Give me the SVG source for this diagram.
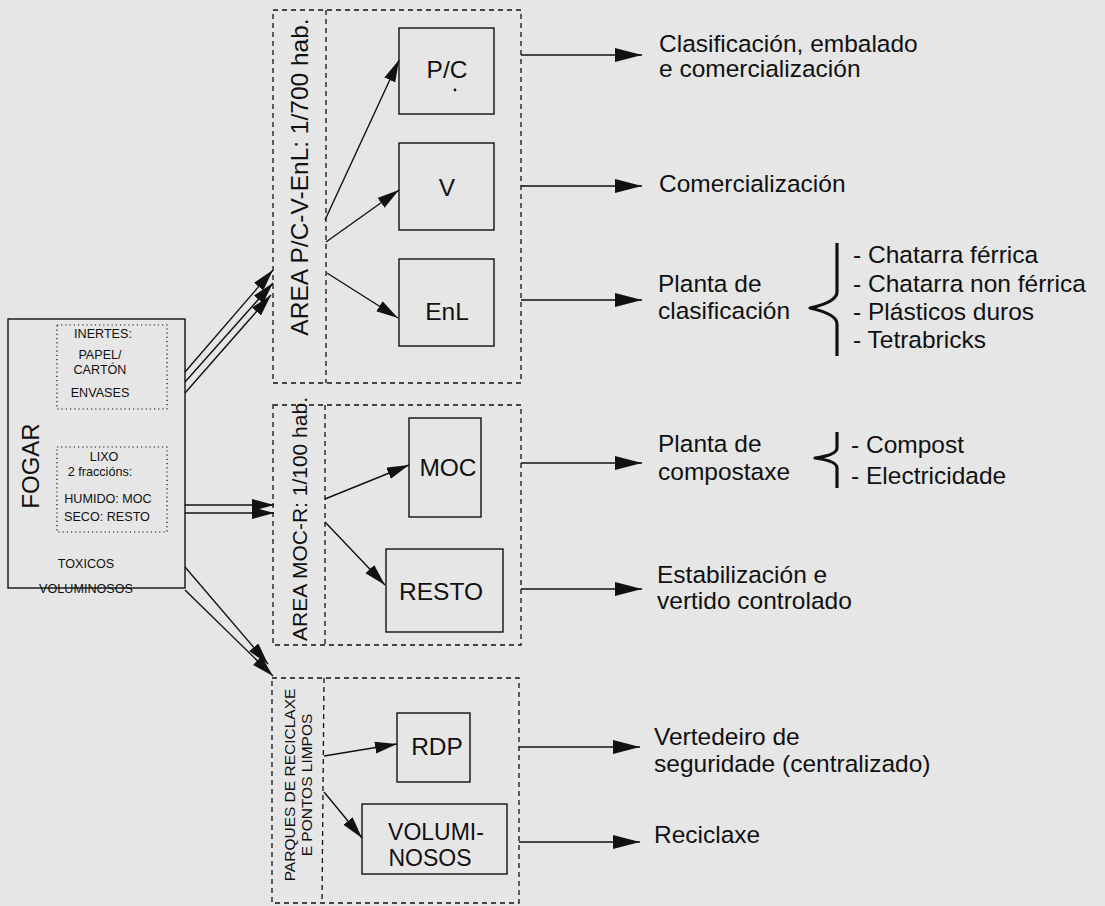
<svg xmlns="http://www.w3.org/2000/svg" width="1105" height="906" viewBox="0 0 1105 906">
<style>
text{font-family:"Liberation Sans",Arial,sans-serif;fill:#111}
.box{fill:none;stroke:#111;stroke-width:1.4}
.dash{fill:none;stroke:#111;stroke-width:1.3;stroke-dasharray:5,4}
.dot{fill:none;stroke:#111;stroke-width:1.2;stroke-dasharray:1.2,3}
.ln{fill:none;stroke:#111;stroke-width:1.4}
.in{marker-end:url(#ah)}
.out{marker-end:url(#ao)}
.brace{fill:none;stroke:#111;stroke-width:3.2;stroke-linejoin:round}
.s11{font-size:12.6px}
.s22{font-size:24.5px}
.s25{font-size:24.5px}
.mid{text-anchor:middle}
</style>
<defs>
<marker id="ah" markerUnits="userSpaceOnUse" markerWidth="24" markerHeight="14" refX="22" refY="6" orient="auto"><path d="M0,0 L22,6 L0,12 z" fill="#111"/></marker>
<marker id="ao" markerUnits="userSpaceOnUse" markerWidth="30" markerHeight="16" refX="27" refY="7" orient="auto"><path d="M0,0 L27,7 L0,14 z" fill="#111"/></marker>
</defs>
<rect x="0" y="0" width="1105" height="906" fill="#e6e6e6"/>

<g id="fogar">
<rect class="box" x="8" y="319" width="177" height="269"/>
<text class="mid" font-size="24" transform="translate(39,466) rotate(-90)">FOGAR</text>
<rect class="dot" x="57" y="325" width="110" height="84"/>
<text class="s11 mid" x="103" y="338">INERTES:</text>
<text class="s11 mid" x="100" y="359">PAPEL/</text>
<text class="s11 mid" x="100" y="374">CARTÓN</text>
<text class="s11 mid" x="100" y="397">ENVASES</text>
<rect class="dot" x="57" y="447" width="110" height="85"/>
<text class="s11 mid" x="104" y="461">LIXO</text>
<text class="s11 mid" x="100" y="476">2 fraccións:</text>
<text class="s11 mid" x="108" y="503">HUMIDO: MOC</text>
<text class="s11 mid" x="107" y="521">SECO: RESTO</text>
<text class="s11 mid" x="86" y="568">TOXICOS</text>
<text class="s11 mid" x="86" y="593">VOLUMINOSOS</text>
</g>

<g id="area-pcv">
<rect class="dash" x="273" y="10" width="248" height="373"/>
<line class="dash" x1="326" y1="10" x2="326" y2="383"/>
<text class="s25 mid" transform="translate(308,177) rotate(-90)">AREA P/C-V-EnL: 1/700 hab.</text>
</g>
<g id="node-pc">
<rect class="box" x="399" y="28" width="95" height="86"/>
<text class="s22 mid" x="447" y="78">P/C</text>
<circle cx="455" cy="90" r="1.4" fill="#111"/>
</g>
<g id="node-v">
<rect class="box" x="399" y="143" width="95" height="87"/>
<text class="s22 mid" x="447" y="196">V</text>
</g>
<g id="node-enl">
<rect class="box" x="399" y="259" width="95" height="87"/>
<text class="s22 mid" x="447" y="320">EnL</text>
</g>

<g id="area-moc">
<rect class="dash" x="273" y="405" width="248" height="240"/>
<line class="dash" x1="325" y1="405" x2="325" y2="645"/>
<text class="mid" font-size="21" transform="translate(307,519) rotate(-90)">AREA MOC-R: 1/100 hab.</text>
</g>
<g id="node-moc">
<rect class="box" x="409" y="418" width="72" height="99"/>
<text class="s22 mid" x="448" y="476">MOC</text>
</g>
<g id="node-resto">
<rect class="box" x="386" y="549" width="117" height="83"/>
<text class="s22 mid" x="441" y="600">RESTO</text>
</g>

<g id="area-parques">
<rect class="dash" x="272" y="678" width="247" height="225"/>
<line class="dash" x1="324" y1="678" x2="322" y2="903"/>
<text class="mid" font-size="15.5" transform="translate(295,785) rotate(-90)">PARQUES DE RECICLAXE</text>
<text class="mid" font-size="15.5" transform="translate(312,785) rotate(-90)">E PONTOS LIMPOS</text>
</g>
<g id="node-rdp">
<rect class="box" x="397" y="713" width="73" height="69"/>
<text class="s22 mid" x="437" y="755">RDP</text>
</g>
<g id="node-vol">
<rect class="box" x="362" y="804" width="145" height="70"/>
<text class="mid" font-size="23" x="436" y="840">VOLUMI-</text>
<text class="mid" font-size="23" x="430" y="866">NOSOS</text>
</g>

<g id="outputs">
<text class="s25" x="659" y="52">Clasificación, embalado</text>
<text class="s25" x="659" y="77">e comercialización</text>
<text class="s25" x="659" y="192">Comercialización</text>
<text class="s25" x="658" y="292">Planta de</text>
<text class="s25" x="658" y="319">clasificación</text>
<text class="s25" x="853" y="263">- Chatarra férrica</text>
<text class="s25" x="853" y="292">- Chatarra non férrica</text>
<text class="s25" x="853" y="320">- Plásticos duros</text>
<text class="s25" x="853" y="348">- Tetrabricks</text>
<text class="s25" x="658" y="452">Planta de</text>
<text class="s25" x="658" y="480">compostaxe</text>
<text class="s25" x="851" y="453">- Compost</text>
<text class="s25" x="851" y="484">- Electricidade</text>
<text class="s25" x="657" y="583">Estabilización e</text>
<text class="s25" x="657" y="609">vertido controlado</text>
<text class="s25" x="654" y="745">Vertedeiro de</text>
<text class="s25" x="654" y="772">seguridade (centralizado)</text>
<text class="s25" x="654" y="843">Reciclaxe</text>
<path class="brace" d="M837,243 L837,292 Q837,302 810,308 Q837,314 837,324 L837,356"/>
<path class="brace" d="M837,432 L837,448 Q837,455 815,458 Q837,461 837,468 L837,488"/>
</g>

<g id="connectors">
<line class="ln in" x1="185" y1="372" x2="273" y2="270"/>
<line class="ln in" x1="185" y1="382" x2="273" y2="283"/>
<line class="ln in" x1="185" y1="393" x2="271" y2="295"/>
<line class="ln in" x1="185" y1="505" x2="274" y2="505"/>
<line class="ln in" x1="185" y1="513" x2="274" y2="513"/>
<line class="ln in" x1="185" y1="567" x2="268" y2="664"/>
<line class="ln in" x1="185" y1="590" x2="273" y2="676"/>
<line class="ln in" x1="325" y1="220" x2="399" y2="60"/>
<line class="ln in" x1="326" y1="242" x2="399" y2="190"/>
<line class="ln in" x1="327" y1="273" x2="398" y2="318"/>
<line class="ln in" x1="325" y1="499" x2="409" y2="465"/>
<line class="ln in" x1="325" y1="522" x2="385" y2="585"/>
<line class="ln in" x1="324" y1="756" x2="397" y2="744"/>
<line class="ln in" x1="324" y1="792" x2="362" y2="838"/>
<line class="ln out" x1="521" y1="55" x2="642" y2="55"/>
<line class="ln out" x1="521" y1="186" x2="642" y2="186"/>
<line class="ln out" x1="521" y1="300" x2="642" y2="300"/>
<line class="ln out" x1="521" y1="463" x2="642" y2="463"/>
<line class="ln out" x1="521" y1="589" x2="642" y2="589"/>
<line class="ln out" x1="519" y1="747" x2="640" y2="747"/>
<line class="ln out" x1="519" y1="842" x2="640" y2="842"/>
</g>
</svg>
